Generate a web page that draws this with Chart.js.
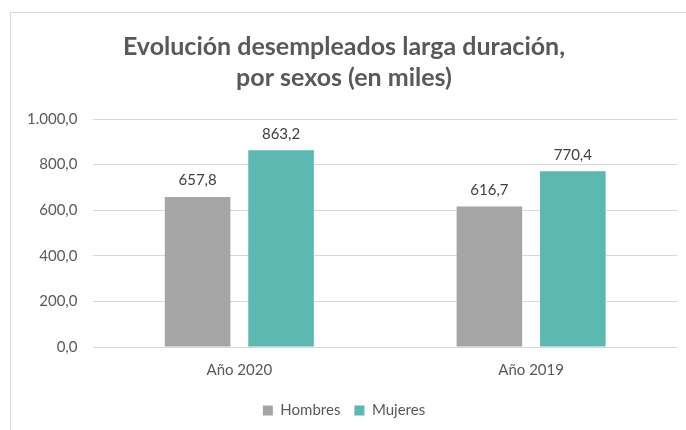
<!DOCTYPE html>
<html>
<head>
<meta charset="utf-8">
<script src="https://cdn.jsdelivr.net/npm/chart.js@4"></script>
<style>
  html, body { margin: 0; padding: 0; background: #fff; }
  #frame {
    position: absolute; left: 10px; top: 12px; width: 676px; height: 418px;
    border-left: 1px solid #d9d9d9; border-top: 1px solid #d9d9d9;
  }
  #wrap { position: absolute; left: 0; top: 0; width: 686px; height: 430px; }
</style>
</head>
<body>
<div id="frame"></div>
<div id="wrap"><canvas id="chart"></canvas></div>
<script>
const categories = ["Año 2020", "Año 2019"];
const hombres = [657.8, 616.7];
const mujeres = [863.2, 770.4];
const yTicks = [0, 200, 400, 600, 800, 1000];

const TEXT = "#595959";
const FONT = "Lato, 'Open Sans', sans-serif";

function fmt(v) {
  // 1.000,0 style
  let s = v.toFixed(1).replace(".", ",");
  let [ent, dec] = s.split(",");
  ent = ent.replace(/\B(?=(\d{3})+(?!\d))/g, ".");
  return ent + "," + dec;
}

const valueLabels = {
  id: "valueLabels",
  afterDatasetsDraw(chart) {
    const ctx = chart.ctx;
    ctx.save();
    ctx.font = "15px " + FONT;
    ctx.fillStyle = "#404040";
    ctx.textAlign = "center";
    ctx.textBaseline = "bottom";
    chart.data.datasets.forEach((ds, i) => {
      chart.getDatasetMeta(i).data.forEach((bar, j) => {
        ctx.fillText(fmt(ds.data[j]), bar.x, bar.y - 9);
      });
    });
    ctx.restore();
  }
};

window.onload = () => {
  let ctx = document.getElementById("chart").getContext("2d");
  new Chart(ctx, {
    type: "bar",
    data: {
      labels: categories,
      datasets: [
        { label: "Hombres", data: hombres, backgroundColor: "#a5a5a5" },
        { label: "Mujeres", data: mujeres, backgroundColor: "#5bb9b1" }
      ]
    },
    options: {
      responsive: true,
      maintainAspectRatio: false,
      animation: false,
      categoryPercentage: 0.572,
      barPercentage: 0.786,
      layout: { padding: { left: 11, right: 9, top: 14, bottom: 2 } },
      plugins: {
        title: {
          display: true,
          text: ["Evolución desempleados larga duración,", "por sexos (en miles)"],
          color: TEXT,
          font: { family: FONT, size: 25, weight: "bold", lineHeight: 1.24 },
          padding: { top: 17, bottom: 26 }
        },
        legend: {
          position: "bottom",
          labels: {
            color: TEXT,
            font: { family: FONT, size: 15 },
            boxWidth: 10, boxHeight: 10,
            padding: 14
          }
        },
        tooltip: { enabled: false }
      },
      scales: {
        x: {
          grid: { display: false },
          border: { color: "#d9d9d9" },
          ticks: { color: TEXT, font: { family: FONT, size: 15 }, padding: 6 },
          afterFit: axis => { axis.height += 4; }
        },
        y: {
          min: 0, max: 1000,
          afterBuildTicks: axis => { axis.ticks = yTicks.map(v => ({ value: v })); },
          grid: { color: "#d9d9d9", drawTicks: false },
          border: { display: false },
          ticks: {
            color: TEXT, font: { family: FONT, size: 15 }, padding: 16,
            callback: v => fmt(v)
          }
        }
      }
    },
    plugins: [valueLabels]
  });
};
</script>
</body>
</html>
